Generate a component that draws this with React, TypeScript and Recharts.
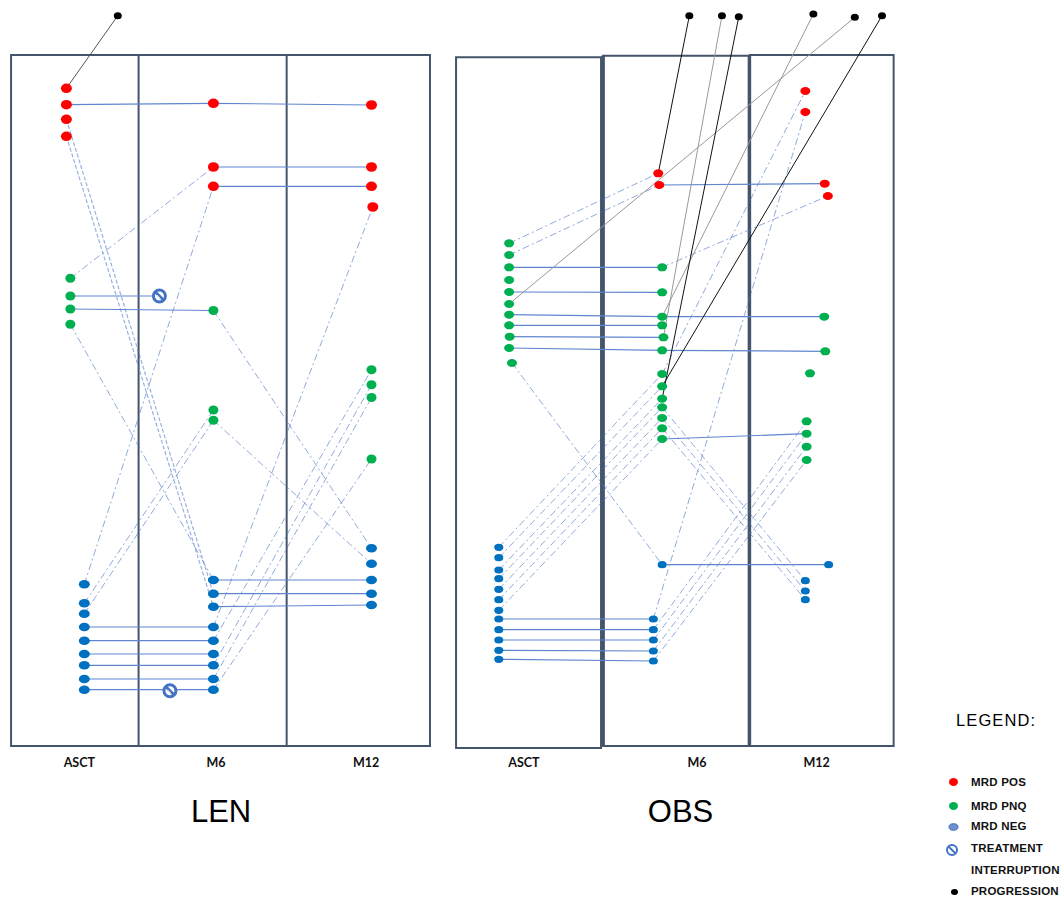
import React from 'react';
import { ScatterChart, Scatter, XAxis, YAxis, ReferenceArea, ReferenceLine, ReferenceDot } from 'recharts';

type P = { id: string; x: number; y: number };
type L = [string, string];

// x = months since ASCT (column position), y = vertical level of the patient marker
// ---------- LEN ----------
const LEN_POS: P[] = [
  { id: 'r1', x: 0.42, y: 66.17 }, { id: 'r2', x: 0.42, y: 64.53 }, { id: 'r3', x: 0.42, y: 63.07 }, { id: 'r4', x: 0.42, y: 61.37 },
  { id: 'r5', x: 6.0, y: 64.67 }, { id: 'r6', x: 6.0, y: 58.3 }, { id: 'r7', x: 6.0, y: 56.37 },
  { id: 'r8', x: 12.0, y: 64.5 }, { id: 'r9', x: 12.0, y: 58.3 }, { id: 'r10', x: 12.0, y: 56.37 }, { id: 'r11', x: 12.05, y: 54.3 },
];
const LEN_PNQ: P[] = [
  { id: 'g1', x: 0.57, y: 47.17 }, { id: 'g2', x: 0.57, y: 45.4 }, { id: 'g3', x: 0.57, y: 44.1 }, { id: 'g4', x: 0.57, y: 42.57 },
  { id: 'g5', x: 6.0, y: 43.95 }, { id: 'g6', x: 6.0, y: 34.0 }, { id: 'g7', x: 6.0, y: 32.97 },
  { id: 'g8', x: 12.0, y: 38.03 }, { id: 'g9', x: 12.0, y: 36.53 }, { id: 'g10', x: 12.0, y: 35.25 }, { id: 'g11', x: 12.0, y: 29.1 },
];
const LEN_NEG: P[] = [
  { id: 'b1', x: 1.1, y: 16.57 }, { id: 'b2', x: 1.1, y: 14.67 }, { id: 'b3', x: 1.1, y: 13.63 }, { id: 'b4', x: 1.1, y: 12.3 },
  { id: 'b5', x: 1.1, y: 10.93 }, { id: 'b6', x: 1.1, y: 9.6 }, { id: 'b7', x: 1.1, y: 8.47 }, { id: 'b8', x: 1.1, y: 7.1 }, { id: 'b9', x: 1.1, y: 6.03 },
  { id: 'b10', x: 6.0, y: 17.0 }, { id: 'b11', x: 6.0, y: 15.63 }, { id: 'b12', x: 6.0, y: 14.33 }, { id: 'b13', x: 6.0, y: 12.3 },
  { id: 'b14', x: 6.0, y: 10.93 }, { id: 'b15', x: 6.0, y: 9.6 }, { id: 'b16', x: 6.0, y: 8.47 }, { id: 'b17', x: 6.0, y: 7.1 }, { id: 'b18', x: 6.0, y: 6.03 },
  { id: 'b19', x: 12.0, y: 20.17 }, { id: 'b20', x: 12.0, y: 18.63 }, { id: 'b21', x: 12.0, y: 17.0 }, { id: 'b22', x: 12.0, y: 15.63 }, { id: 'b23', x: 12.0, y: 14.5 },
];
const LEN_STOP: P[] = [{ id: 't1', x: 3.95, y: 45.4 }, { id: 't2', x: 4.35, y: 5.93 }];
const LEN_PROG: P[] = [{ id: 'p1', x: 2.37, y: 73.43 }];

const LEN_SAME: L[] = [
  ['r2', 'r5'], ['r5', 'r8'], ['r6', 'r9'], ['r7', 'r10'], ['g2', 't1'], ['g3', 'g5'],
  ['b10', 'b21'], ['b11', 'b22'], ['b12', 'b23'], ['b4', 'b13'], ['b5', 'b14'], ['b6', 'b15'], ['b7', 'b16'], ['b8', 'b17'], ['b9', 'b18'],
];
const LEN_CHANGE: L[] = [
  ['g1', 'r6'], ['g4', 'b10'], ['g5', 'b19'], ['g7', 'b20'], ['b2', 'g6'], ['b3', 'g7'], ['b1', 'r7'],
  ['b13', 'r11'], ['b14', 'g8'], ['b16', 'g9'], ['b17', 'g10'], ['b18', 'g11'],
];
const LEN_DROP: L[] = [['r3', 'b11'], ['r4', 'b12']];
const LEN_PROG_LINKS: L[] = [['p1', 'r1']];

// ---------- OBS ----------
const OBS_POS: P[] = [
  { id: 'R1', x: 5.93, y: 57.67 }, { id: 'R2', x: 5.97, y: 56.5 },
  { id: 'R3', x: 11.61, y: 65.9 }, { id: 'R4', x: 11.61, y: 63.8 }, { id: 'R5', x: 12.36, y: 56.63 }, { id: 'R6', x: 12.48, y: 55.4 },
];
const OBS_PNQ: P[] = [
  { id: 'G1', x: 0.17, y: 50.67 }, { id: 'G2', x: 0.17, y: 49.5 }, { id: 'G3', x: 0.17, y: 48.27 }, { id: 'G4', x: 0.17, y: 47.0 },
  { id: 'G5', x: 0.17, y: 45.8 }, { id: 'G6', x: 0.17, y: 44.6 }, { id: 'G7', x: 0.17, y: 43.53 }, { id: 'G8', x: 0.17, y: 42.47 },
  { id: 'G9', x: 0.19, y: 41.33 }, { id: 'G10', x: 0.17, y: 40.2 }, { id: 'G11', x: 0.28, y: 38.7 },
  { id: 'G12', x: 6.08, y: 48.27 }, { id: 'G13', x: 6.08, y: 45.77 }, { id: 'G14', x: 6.08, y: 43.33 }, { id: 'G15', x: 6.08, y: 42.47 },
  { id: 'G16', x: 6.13, y: 41.27 }, { id: 'G17', x: 6.08, y: 39.97 }, { id: 'G18', x: 6.08, y: 37.6 }, { id: 'G19', x: 6.08, y: 36.37 },
  { id: 'G20', x: 6.08, y: 35.13 }, { id: 'G21', x: 6.08, y: 34.27 }, { id: 'G22', x: 6.08, y: 33.2 }, { id: 'G23', x: 6.08, y: 32.17 }, { id: 'G24', x: 6.08, y: 31.1 },
  { id: 'G25', x: 12.34, y: 43.33 }, { id: 'G26', x: 12.38, y: 39.87 }, { id: 'G27', x: 11.79, y: 37.67 },
  { id: 'G28', x: 11.66, y: 32.87 }, { id: 'G29', x: 11.66, y: 31.63 }, { id: 'G30', x: 11.66, y: 30.33 }, { id: 'G31', x: 11.66, y: 29.0 },
];
const OBS_NEG: P[] = [
  { id: 'B1', x: -0.23, y: 20.27 }, { id: 'B2', x: -0.23, y: 19.23 }, { id: 'B3', x: -0.23, y: 18.0 }, { id: 'B4', x: -0.23, y: 17.13 },
  { id: 'B5', x: -0.23, y: 16.07 }, { id: 'B6', x: -0.23, y: 15.03 }, { id: 'B7', x: -0.23, y: 13.97 }, { id: 'B8', x: -0.23, y: 13.1 },
  { id: 'B9', x: -0.23, y: 12.03 }, { id: 'B10', x: -0.23, y: 11.0 }, { id: 'B11', x: -0.23, y: 9.97 }, { id: 'B12', x: -0.23, y: 9.07 },
  { id: 'B13', x: 6.08, y: 18.53 }, { id: 'B14', x: 5.74, y: 13.1 }, { id: 'B15', x: 5.74, y: 12.03 }, { id: 'B16', x: 5.74, y: 11.0 },
  { id: 'B17', x: 5.74, y: 9.9 }, { id: 'B18', x: 5.74, y: 8.9 },
  { id: 'B19', x: 12.51, y: 18.53 }, { id: 'B20', x: 11.61, y: 16.93 }, { id: 'B21', x: 11.61, y: 15.9 }, { id: 'B22', x: 11.61, y: 15.03 },
];
const OBS_PROG: P[] = [
  { id: 'P1', x: 7.13, y: 73.43 }, { id: 'P2', x: 8.39, y: 73.43 }, { id: 'P3', x: 9.04, y: 73.33 },
  { id: 'P4', x: 11.92, y: 73.6 }, { id: 'P5', x: 13.52, y: 73.27 }, { id: 'P6', x: 14.57, y: 73.43 },
];
const OBS_SAME: L[] = [
  ['G3', 'G12'], ['G5', 'G13'], ['G7', 'G14'], ['G14', 'G25'], ['G8', 'G15'], ['G9', 'G16'], ['G10', 'G17'], ['G17', 'G26'],
  ['G24', 'G29'], ['R2', 'R5'], ['B8', 'B14'], ['B9', 'B15'], ['B10', 'B16'], ['B11', 'B17'], ['B12', 'B18'], ['B13', 'B19'],
];
const OBS_CHANGE: L[] = [
  ['G1', 'R1'], ['G2', 'R2'], ['G12', 'R6'], ['G18', 'R3'], ['B14', 'R4'], ['G11', 'B13'],
  ['G21', 'B20'], ['G22', 'B21'], ['G23', 'B22'],
  ['B1', 'G18'], ['B2', 'G19'], ['B3', 'G20'], ['B4', 'G21'], ['B5', 'G22'], ['B6', 'G23'], ['B7', 'G24'],
  ['B15', 'G28'], ['B16', 'G29'], ['B17', 'G30'], ['B18', 'G31'],
];
const OBS_PROG_LINKS: L[] = [['P1', 'R1'], ['P2', 'G16'], ['P3', 'G20'], ['P4', 'G14'], ['P5', 'G6'], ['P6', 'G19']];
const OBS_PROG_GREY = ['P2', 'P4', 'P5'];

const COLUMNS = ['ASCT', 'M6', 'M12'];
const LEN_LABEL_X = [0.91, 6.1, 11.8];
const OBS_LABEL_X = [0.74, 7.43, 12.05];
const LEGEND_ITEMS = ['MRD POS', 'MRD PNQ', 'MRD NEG', 'TREATMENT', 'PROGRESSION'];

const Y_DOMAIN: [number, number] = [-15.1, 75];
const BOX = '#44546A';
const SANS = "'Liberation Sans', Arial, sans-serif";

const noShape = () => <g />;
const ellipse = (fill: string, rx: number, ry: number) => (p: any) =>
  <ellipse cx={p.cx} cy={p.cy} rx={rx} ry={ry} fill={fill} />;
const stopShape = (p: any) => (
  <g transform={`translate(${p.cx},${p.cy})`}>
    <circle r={6} fill="#fff" stroke="#4472C4" strokeWidth={3} />
    <line x1={-4} y1={-4} x2={4} y2={4} stroke="#4472C4" strokeWidth={3} />
    <line x1={-2.5} y1={-1} x2={1} y2={2.5} stroke="#fff" strokeWidth={0.8} />
  </g>
);

function segments(points: P[], links: L[]) {
  const m = new Map(points.map((p) => [p.id, p]));
  return links.map(([a, b]) => ({ key: `${a}-${b}`, data: [m.get(a)!, m.get(b)!] }));
}

function linkSeries(points: P[], links: L[], line: any, prefix: string) {
  return segments(points, links).map((s) => (
    <Scatter key={prefix + s.key} data={s.data} line={line} shape={noShape} isAnimationActive={false} />
  ));
}

const SAME_LINE = { stroke: '#5F86CF', strokeWidth: 1.2 };
const CHANGE_LINE = { stroke: '#4472C4', strokeWidth: 1, strokeOpacity: 0.6, strokeDasharray: '7 3 2 3' };
const DROP_LINE = { stroke: '#4472C4', strokeWidth: 1.2, strokeOpacity: 0.55, strokeDasharray: '4 2' };

function colLabels(xs: number[]) {
  return xs.map((x, i) => (
    <ReferenceDot key={COLUMNS[i]} x={x} y={-1.23} r={0} fill="none" stroke="none"
      label={{ value: COLUMNS[i], position: 'center', fill: '#111', fontSize: 12.5, fontWeight: 700, fontFamily: 'Lato, sans-serif' }} />
  ));
}

function LenChart() {
  const all = [...LEN_POS, ...LEN_PNQ, ...LEN_NEG, ...LEN_STOP, ...LEN_PROG];
  return (
    <ScatterChart width={440} height={901} margin={{ top: 0, right: 0, bottom: 0, left: 0 }}>
      <XAxis type="number" dataKey="x" domain={[-2.1, 14.6]} hide allowDataOverflow />
      <YAxis type="number" dataKey="y" domain={Y_DOMAIN} hide allowDataOverflow />
      <ReferenceArea x1={-1.68} x2={14.22} y1={0.4} y2={69.5} fill="none" stroke={BOX} strokeWidth={2} fillOpacity={0} />
      <ReferenceLine segment={[{ x: 3.16, y: 0.4 }, { x: 3.16, y: 69.5 }]} stroke={BOX} strokeWidth={2} />
      <ReferenceLine segment={[{ x: 8.78, y: 0.4 }, { x: 8.78, y: 69.5 }]} stroke={BOX} strokeWidth={2} />
      {linkSeries(all, LEN_CHANGE, CHANGE_LINE, 'c')}
      {linkSeries(all, LEN_DROP, DROP_LINE, 'd')}
      {linkSeries(all, LEN_SAME, SAME_LINE, 's')}
      {linkSeries(all, LEN_PROG_LINKS, { stroke: '#555', strokeWidth: 1 }, 'p')}
      <Scatter data={LEN_POS} shape={ellipse('#FF0000', 5.5, 4.8)} isAnimationActive={false} />
      <Scatter data={LEN_PNQ} shape={ellipse('#00B050', 5, 4.5)} isAnimationActive={false} />
      <Scatter data={LEN_NEG} shape={ellipse('#0070C0', 5.5, 4.3)} isAnimationActive={false} />
      <Scatter data={LEN_STOP} shape={stopShape} isAnimationActive={false} />
      <Scatter data={LEN_PROG} shape={ellipse('#000', 4, 3.5)} isAnimationActive={false} />
      {colLabels(LEN_LABEL_X)}
      <ReferenceDot x={6.29} y={-6.1} r={0} fill="none" stroke="none"
        label={{ value: 'LEN', position: 'center', fill: '#000', fontSize: 31, fontFamily: SANS }} />
    </ScatterChart>
  );
}

function ObsChart() {
  const all = [...OBS_POS, ...OBS_PNQ, ...OBS_NEG, ...OBS_PROG];
  const black = OBS_PROG_LINKS.filter(([a]) => !OBS_PROG_GREY.includes(a));
  const grey = OBS_PROG_LINKS.filter(([a]) => OBS_PROG_GREY.includes(a));
  return (
    <ScatterChart width={624} height={901} margin={{ top: 0, right: 0, bottom: 0, left: 0 }}>
      <XAxis type="number" dataKey="x" domain={[-2.5, 21.6]} hide allowDataOverflow />
      <YAxis type="number" dataKey="y" domain={Y_DOMAIN} hide allowDataOverflow />
      <ReferenceArea x1={-1.88} x2={3.72} y1={0.2} y2={69.27} fill="none" stroke={BOX} strokeWidth={2} fillOpacity={0} />
      <ReferenceArea x1={9.47} x2={15.02} y1={0.4} y2={69.5} fill="none" stroke={BOX} strokeWidth={2} fillOpacity={0} />
      <ReferenceArea x1={3.8} x2={9.45} y1={0.4} y2={69.43} fill="none" stroke={BOX} strokeWidth={2} fillOpacity={0} />
      <ReferenceLine segment={[{ x: 3.8, y: 0.4 }, { x: 3.8, y: 69.43 }]} stroke={BOX} strokeWidth={3.5} />
      <ReferenceLine segment={[{ x: 9.45, y: 0.4 }, { x: 9.45, y: 69.43 }]} stroke={BOX} strokeWidth={3.5} />
      {linkSeries(all, OBS_CHANGE, CHANGE_LINE, 'c')}
      {linkSeries(all, OBS_SAME, SAME_LINE, 's')}
      {linkSeries(all, grey, { stroke: '#999', strokeWidth: 1 }, 'pg')}
      {linkSeries(all, black, { stroke: '#111', strokeWidth: 1 }, 'pb')}
      <Scatter data={OBS_POS} shape={ellipse('#FF0000', 5, 4)} isAnimationActive={false} />
      <Scatter data={OBS_PNQ} shape={ellipse('#00B050', 5, 4)} isAnimationActive={false} />
      <Scatter data={OBS_NEG} shape={ellipse('#0070C0', 4.5, 3.6)} isAnimationActive={false} />
      <Scatter data={OBS_PROG} shape={ellipse('#000', 4, 3.5)} isAnimationActive={false} />
      {colLabels(OBS_LABEL_X)}
      <ReferenceDot x={6.79} y={-6.1} r={0} fill="none" stroke="none"
        label={{ value: 'OBS', position: 'center', fill: '#000', fontSize: 31, fontFamily: SANS }} />
    </ScatterChart>
  );
}

function Legend() {
  const t = { fontFamily: SANS, fontSize: 11.5, fontWeight: 700, fill: '#111', letterSpacing: 0.2 } as any;
  return (
    <svg width={134} height={201} style={{ position: 'absolute', left: 930, top: 700 }}>
      <text x={26} y={25.5} fontFamily={SANS} fontSize={16.5} letterSpacing={1.1} fill="#000">LEGEND:</text>
      <ellipse cx={23.5} cy={82} rx={4.5} ry={4} fill="#FF0000" />
      <text x={41} y={86} {...t}>{LEGEND_ITEMS[0]}</text>
      <ellipse cx={23.5} cy={106} rx={4.5} ry={4} fill="#00B050" />
      <text x={41} y={110} {...t}>{LEGEND_ITEMS[1]}</text>
      <ellipse cx={23.5} cy={127} rx={4.5} ry={3.3} fill="#6E8FCB" stroke="#4472C4" strokeWidth={1} />
      <text x={41} y={130} {...t}>{LEGEND_ITEMS[2]}</text>
      <g transform="translate(22,150)">
        <circle r={5} fill="#fff" stroke="#4472C4" strokeWidth={2} />
        <line x1={-3.5} y1={-3.5} x2={3.5} y2={3.5} stroke="#4472C4" strokeWidth={2} />
      </g>
      <text x={41} y={152} {...t}>{LEGEND_ITEMS[3]}</text>
      <text x={41} y={174} {...t}>INTERRUPTION</text>
      <ellipse cx={24.5} cy={192} rx={3.5} ry={3} fill="#000" />
      <text x={41} y={195} {...t}>{LEGEND_ITEMS[4]}</text>
    </svg>
  );
}

export default function App() {
  return (
    <div style={{ position: 'absolute', left: 0, top: 0, width: 1064, height: 901, background: '#fff' }}>
      <div style={{ position: 'absolute', left: 0, top: 0 }}><LenChart /></div>
      <div style={{ position: 'absolute', left: 440, top: 0 }}><ObsChart /></div>
      <Legend />
    </div>
  );
}
